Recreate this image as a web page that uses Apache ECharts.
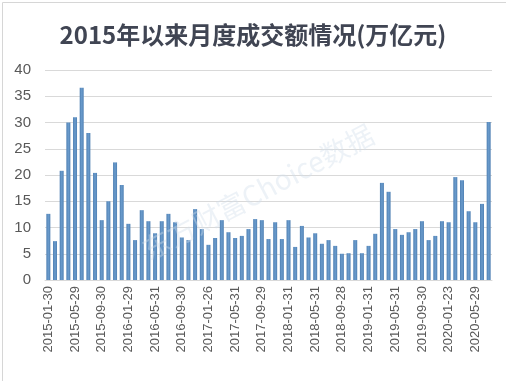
<!DOCTYPE html>
<html><head><meta charset="utf-8">
<script src="https://cdn.jsdelivr.net/npm/echarts@6/dist/echarts.min.js"></script>
<style>html,body{margin:0;padding:0;background:#fff}#c{width:506px;height:381px}</style>
</head><body><div id="c"></div>
<script>
var titleText = '2015年以来月度成交额情况(万亿元)';
var dates = [
'2015-01-30','2015-02-27','2015-03-31','2015-04-30','2015-05-29','2015-06-30','2015-07-31','2015-08-31','2015-09-30','2015-10-30','2015-11-30','2015-12-31',
'2016-01-29','2016-02-29','2016-03-31','2016-04-29','2016-05-31','2016-06-30','2016-07-29','2016-08-31','2016-09-30','2016-10-31','2016-11-30','2016-12-30',
'2017-01-26','2017-02-28','2017-03-31','2017-04-28','2017-05-31','2017-06-30','2017-07-31','2017-08-31','2017-09-29','2017-10-31','2017-11-30','2017-12-29',
'2018-01-31','2018-02-28','2018-03-30','2018-04-27','2018-05-31','2018-06-29','2018-07-31','2018-08-31','2018-09-28','2018-10-31','2018-11-30','2018-12-28',
'2019-01-31','2019-02-28','2019-03-29','2019-04-30','2019-05-31','2019-06-28','2019-07-31','2019-08-30','2019-09-30','2019-10-31','2019-11-29','2019-12-31',
'2020-01-23','2020-02-28','2020-03-31','2020-04-30','2020-05-29','2020-06-30','2020-07-17'];
var turnover = [
12.6, 7.4, 20.8, 30.0, 31.0, 36.6, 28.0, 20.4, 11.4, 15.0, 22.4, 18.1,
10.7, 7.6, 13.3, 11.2, 8.9, 11.2, 12.6, 11.0, 8.1, 7.6, 13.5, 9.7,
6.7, 8.0, 11.4, 9.1, 8.0, 8.4, 9.7, 11.6, 11.4, 7.8, 11.0, 7.8,
11.4, 6.3, 10.3, 8.1, 8.9, 6.9, 7.6, 6.5, 5.0, 5.1, 7.6, 5.1,
6.5, 8.8, 18.5, 16.8, 9.7, 8.6, 9.1, 9.7, 11.2, 7.6, 8.4, 11.2,
11.0, 19.6, 19.0, 13.1, 11.0, 14.5, 30.1];
var yTicks = [0, 5, 10, 15, 20, 25, 30, 35, 40];

var chart = echarts.init(document.getElementById('c'));
chart.setOption({
  animation: false,
  backgroundColor: '#fff',
  title: {
    text: titleText, left: 'center', top: 18,
    textStyle: {fontSize: 24, fontWeight: 'bold', color: '#404553', fontFamily: 'Noto Sans CJK SC'}
  },
  grid: {left: 45, right: 14, top: 70, bottom: 101},
  xAxis: {
    type: 'category', data: dates,
    axisTick: {show: false},
    axisLine: {lineStyle: {color: '#d9d9d9'}},
    axisLabel: {interval: 3, rotate: 90, color: '#595959', fontSize: 13, fontFamily: 'Liberation Sans', margin: 6}
  },
  yAxis: {
    type: 'value', min: yTicks[0], max: yTicks[yTicks.length - 1], interval: 5,
    axisLine: {show: false}, axisTick: {show: false},
    axisLabel: {color: '#595959', fontSize: 15, fontFamily: 'Liberation Sans', margin: 14},
    splitLine: {lineStyle: {color: '#d9d9d9'}}
  },
  series: [{
    type: 'bar', data: turnover, barCategoryGap: '40%',
    itemStyle: {color: new echarts.graphic.LinearGradient(0, 0, 1, 0, [
      {offset: 0, color: '#4f80b3'}, {offset: 0.5, color: '#6a9bcc'}, {offset: 1, color: '#4f80b3'}])}
  }],
  graphic: [
    {type: 'rect', left: 0, top: 0, shape: {width: 505, height: 380}, style: {fill: 'none', stroke: '#d6d6d6', lineWidth: 1}, silent: true},
    {type: 'text', x: 258, y: 192, rotation: Math.PI / 6.5, style: {text: '东方财富Choice数据', fontSize: 28, fill: 'rgba(210,222,235,0.4)', fontFamily: 'Noto Sans CJK SC', align: 'center', verticalAlign: 'middle'}, silent: true, z: 100}
  ]
});
</script></body></html>
